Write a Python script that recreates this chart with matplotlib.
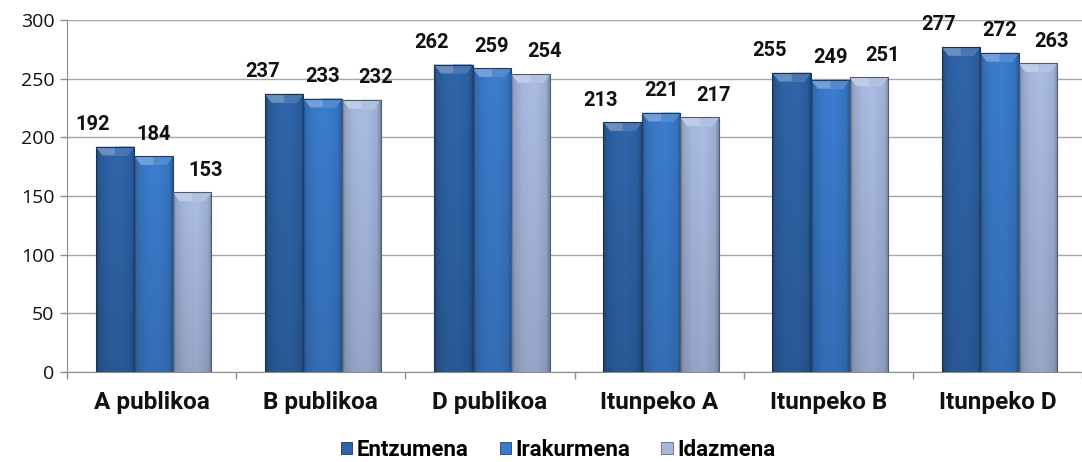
import numpy as np
import matplotlib
matplotlib.use("Agg")
import matplotlib.pyplot as plt
from matplotlib.colors import to_rgb
from matplotlib.patches import Polygon, Rectangle

categories = ["A publikoa", "B publikoa", "D publikoa", "Itunpeko A", "Itunpeko B", "Itunpeko D"]
series_names = ["Entzumena", "Irakurmena", "Idazmena"]
entzumena = [192, 237, 262, 213, 255, 277]
irakurmena = [184, 233, 259, 221, 249, 272]
idazmena = [153, 232, 254, 217, 251, 263]
series = [entzumena, irakurmena, idazmena]
colors = ["#2E63A7", "#3A7ACA", "#A6B8DE"]
y_ticks = [0, 50, 100, 150, 200, 250, 300]

FONT = "Open Sans"
BFONT = "Roboto"

fig = plt.figure(figsize=(10.82, 4.62), dpi=100)
W, H = 1082, 462
ax = fig.add_axes([67 / W, (H - 372) / H, (W - 67) / W, 352 / H])

bw = 0.228
x = np.arange(len(categories))
label_dx = [-22, 0, 14]  # px

def shade(c, f):
    r = np.array(to_rgb(c))
    if f < 0:
        return tuple(r * (1 + f))
    return tuple(r + (1 - r) * f)

hx = np.linspace(0, 1, 80)
hprof = np.interp(hx, [0, 0.08, 0.3, 0.6, 0.9, 1.0], [0.70, 0.90, 1.0, 1.03, 0.95, 0.75])
vy = np.linspace(0, 1, 80)
vprof = np.interp(vy, [0, 1], [1.0, 0.88])

for i, (vals, col) in enumerate(zip(series, colors)):
    pos = x + (i - 1) * bw + 0.012
    bars = ax.bar(pos, vals, width=bw, color=col, edgecolor="none", zorder=3)
    base = np.array(to_rgb(col))
    img = np.clip(vprof[:, None, None] * hprof[None, :, None] * base[None, None, :], 0, 1)
    for b, v in zip(bars, vals):
        x0, w, h = b.get_x(), b.get_width(), b.get_height()
        im = ax.imshow(img, aspect="auto", extent=[x0, x0 + w, 0, h],
                       zorder=3.5, interpolation="bilinear")
        clip = Rectangle((x0, 0), w, h, transform=ax.transData, facecolor="none", edgecolor="none")
        ax.add_patch(clip)
        im.set_clip_path(clip)
        d = 0.04
        hb = 7.5
        ax.add_patch(Polygon([(x0, h), (x0 + w, h), (x0 + w - d, h - hb), (x0 + d, h - hb)],
                             closed=True, facecolor=shade(col, 0.28), edgecolor="none", zorder=4))
        ax.add_patch(Polygon([(x0 + w * 0.5, h), (x0 + w, h), (x0 + w - d, h - hb), (x0 + w * 0.5, h - hb)],
                             closed=True, facecolor=shade(col, 0.12), edgecolor="none", zorder=4.1))
        ax.add_patch(Rectangle((x0, 0), w, h, facecolor="none", edgecolor=shade(col, -0.5),
                               linewidth=0.8, zorder=4.5))
        ax.annotate(str(v), (x0 + w / 2, h), xytext=(label_dx[i] * 0.72, 22 * 0.72),
                    textcoords="offset points", ha="center", va="center",
                    fontsize=14.5, fontweight="bold", family=BFONT, color="#111111", zorder=6)

ax.set_xlim(-0.5, -0.5 + (W - 67) / 170)
ax.set_ylim(0, 300)
ax.set_yticks(y_ticks)
ax.set_yticklabels([str(t) for t in y_ticks], fontsize=14, family=FONT, color="#111111")
ax.yaxis.grid(True, color="#A6A6A6", linewidth=1.0, zorder=0)
ax.set_axisbelow(True)

ax.set_xticks(np.arange(len(categories) + 1) - 0.5, minor=False)
ax.set_xticklabels([])
ax.set_xticks(x, minor=True)
ax.set_xticklabels(categories, minor=True, fontsize=17.5, fontweight="bold", family=BFONT, color="#111111")
ax.tick_params(axis="x", which="minor", length=0, pad=14)
ax.tick_params(axis="x", which="major", length=5, color="#8C8C8C", width=1)
ax.tick_params(axis="y", length=5, color="#8C8C8C", width=1, pad=4)

for s in ["top", "right"]:
    ax.spines[s].set_visible(False)
ax.spines["left"].set_color("#8C8C8C")
ax.spines["bottom"].set_color("#8C8C8C")

handles = [Rectangle((0, 0), 1, 1, facecolor=c, edgecolor=shade(c, -0.45), linewidth=0.6) for c in colors]
fig.legend(handles, series_names, loc="center", bbox_to_anchor=(0.516, (H - 450) / H), ncol=3,
           frameon=False, prop={"family": BFONT, "weight": "bold", "size": 16},
           handlelength=0.5, handleheight=0.5, handletextpad=0.2, columnspacing=1.4)

fig.savefig("out.png", dpi=100)
